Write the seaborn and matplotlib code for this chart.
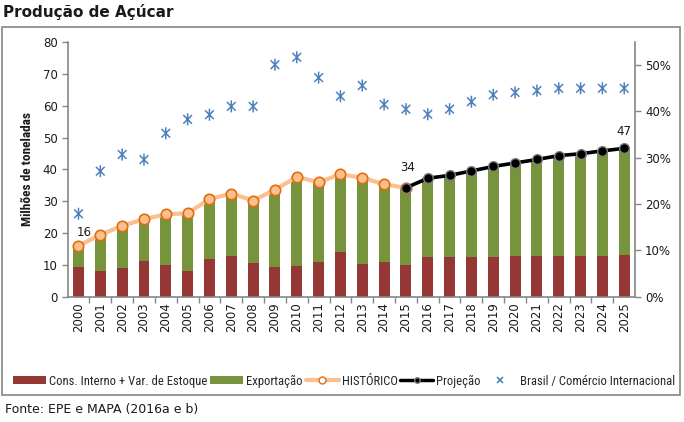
import matplotlib
matplotlib.use("Agg")
import matplotlib.pyplot as plt
import seaborn as sns
import numpy as np
import pandas as pd
from matplotlib.path import Path
from matplotlib.patches import Patch, Rectangle
from matplotlib.lines import Line2D
from matplotlib import font_manager as fm

sns.set_theme(style="white")
plt.rcParams['font.family'] = ['DejaVu Sans']

def pick_narrow():
    names = {f.name for f in fm.fontManager.ttflist}
    for cand in ["Liberation Sans Narrow", "Roboto Condensed", "DejaVu Sans Condensed",
                 "Liberation Sans"]:
        if cand in names:
            return cand
    return "DejaVu Sans"

narrow_family = pick_narrow()

def make_font(size, weight="normal"):
    return fm.FontProperties(family=narrow_family, size=size, weight=weight)

years = list(range(2000, 2026))
consumo = [9.3, 8.1, 8.9, 11.3, 9.9, 8.0, 11.9, 12.9, 10.6, 9.3, 9.5, 10.8, 14.1,
           10.2, 11.0, 10.0, 12.4, 12.5, 12.5, 12.6, 12.8, 12.8, 12.9, 12.9, 12.9, 13.1]
total = [16.0, 19.4, 22.3, 24.3, 25.9, 26.2, 30.7, 32.4, 30.2, 33.6, 37.6, 36.0, 38.4,
         37.4, 35.3, 34.2, 37.2, 38.1, 39.5, 40.9, 42.0, 43.1, 44.3, 44.9, 45.8, 46.6]
exportacao = [t - c for t, c in zip(total, consumo)]
participacao = [17.9, 27.1, 30.7, 29.6, 35.3, 38.3, 39.3, 41.1, 41.1, 50.1, 51.7, 47.3, 43.3,
                45.6, 41.5, 40.5, 39.4, 40.5, 42.1, 43.6, 44.1, 44.5, 45.0, 45.0, 45.0, 45.0]
hist_end = 2015
labels_pts = {2000: "16", 2015: "34", 2025: "47"}
legend_labels = ["Cons. Interno + Var. de Estoque", "Exportação", "HISTÓRICO", "Projeção",
                 "Brasil / Comércio Internacional"]
ylabel = "Milhões de toneladas"

red = "#953735"
green = "#77933C"
orange_line = "#FAC090"
orange_edge = "#E46C0A"
blue = "#4F81BD"
gray = "#868686"

df = pd.DataFrame({"ano": years, "consumo": consumo, "exportacao": exportacao,
                   "total": total, "pct": participacao})
hist = df[df.ano <= hist_end]
proj = df[df.ano >= hist_end]

fig = plt.figure(figsize=(6.84, 4.22), dpi=100)
renderer = fig.canvas.get_renderer()

def fit_size(text, target_px, weight="normal", base=10.0):
    t = fig.text(0, 0, text, fontproperties=make_font(base, weight))
    w = t.get_window_extent(renderer=renderer).width
    t.remove()
    return base * target_px / w

leg_size = fit_size(legend_labels[0], 157)
ylab_size = fit_size(ylabel, 115, weight="bold")

ax_bottom, ax_top = 296.7, 42
ax = fig.add_axes([68/684, 1-ax_bottom/422, (634.7-68)/684, (ax_bottom-ax_top)/422])

sns.barplot(data=df, x="ano", y="total", color=green, saturation=1, width=0.5,
            native_scale=True, ax=ax, edgecolor="none", linewidth=0)
sns.barplot(data=df, x="ano", y="consumo", color=red, saturation=1, width=0.5,
            native_scale=True, ax=ax, edgecolor="none", linewidth=0)

sns.lineplot(data=hist, x="ano", y="total", color=orange_line, linewidth=3,
             marker="o", markersize=7.5, markerfacecolor=orange_line,
             markeredgecolor=orange_edge, markeredgewidth=1.2, ax=ax, zorder=5)
sns.lineplot(data=proj, x="ano", y="total", color="black", linewidth=2.6,
             marker="o", markersize=7, markerfacecolor="black",
             markeredgecolor="#7f7f7f", markeredgewidth=1.0, ax=ax, zorder=6)

offsets = {2000: (4, 9.4), 2015: (1, 14.4), 2025: (0, 12.2)}
for yr, txt in labels_pts.items():
    v = total[years.index(yr)]
    ax.annotate(txt, (yr, v), xytext=offsets[yr], textcoords="offset points",
                ha="center", va="center", fontsize=8.5, color="#1a1a1a")

ax.set_xlim(1999.52, 2025.48)
ax.set_ylim(0, 80)
ax.set_yticks(range(0, 81, 10))
ax.set_xticks(years)
ax.set_xticklabels([str(y) for y in years], rotation=90, fontsize=8.5)
ax.set_xticks([y + 0.5 for y in years[:-1]] + [1999.5], minor=True)
ax.tick_params(axis="x", which="major", length=0, pad=4, colors="#1a1a1a")
ax.tick_params(axis="x", which="minor", length=4, color=gray, width=1, direction="out", bottom=True)
ax.tick_params(axis="y", length=4, color=gray, width=1, direction="out", left=True,
               labelsize=8.5, labelcolor="#1a1a1a")
ax.set_xlabel("")
ax.set_ylabel(ylabel, fontproperties=make_font(ylab_size, "bold"), color="#1a1a1a")
ax.yaxis.set_label_coords(28/684, 1-(ax_bottom+ax_top)/2/422, transform=fig.transFigure)
ax.yaxis.label.set_va("center")
for s in ["top", "right"]:
    ax.spines[s].set_visible(False)
for s in ["left", "bottom"]:
    ax.spines[s].set_color(gray)
    ax.spines[s].set_linewidth(1.2)

ax2 = ax.twinx()
star = Path([(0, -1), (0, 1), (-0.72, -0.72), (0.72, 0.72), (-0.72, 0.72), (0.72, -0.72)],
            [Path.MOVETO, Path.LINETO, Path.MOVETO, Path.LINETO, Path.MOVETO, Path.LINETO])
sns.scatterplot(data=df, x="ano", y="pct", marker=star, s=75, facecolor="none",
                edgecolor=blue, linewidth=1.1, ax=ax2, zorder=4)
ax2.set_ylim(0, 55)
ax2.set_yticks(range(0, 51, 10))
ax2.set_yticklabels([f"{v}%" for v in range(0, 51, 10)])
ax2.tick_params(axis="y", length=4, color=gray, width=1, direction="out", right=True,
                labelsize=8.5, labelcolor="#1a1a1a")
ax2.set_ylabel("")
ax2.set_xlim(1999.52, 2025.48)
for s in ["top", "left", "bottom"]:
    ax2.spines[s].set_visible(False)
ax2.spines["right"].set_color(gray)
ax2.spines["right"].set_linewidth(1.2)
ax2.grid(False)
ax.grid(False)

handles = [
    Patch(facecolor=red, edgecolor="none", label=legend_labels[0]),
    Patch(facecolor=green, edgecolor="none", label=legend_labels[1]),
    Line2D([], [], color=orange_line, lw=3, marker="o", markersize=5,
           markerfacecolor="white", markeredgecolor=orange_edge, label=legend_labels[2]),
    Line2D([], [], color="black", lw=2.5, marker="o", markersize=4,
           markerfacecolor="black", markeredgecolor="#7f7f7f", label=legend_labels[3]),
    Line2D([], [], color=blue, lw=0, marker="x", markersize=4, markeredgewidth=1.2,
           label=legend_labels[4]),
]
em_px = leg_size * 100 / 72

def build_legend(cs):
    return fig.legend(handles=handles, loc="center left",
                      bbox_to_anchor=(13/684, 1-381/422), ncol=5,
                      frameon=False, prop=make_font(leg_size), handlelength=33/em_px,
                      handleheight=6.5/em_px, handletextpad=3/em_px, columnspacing=cs,
                      borderaxespad=0, borderpad=0)

cs = 7/em_px
leg = build_legend(cs)
w = leg.get_window_extent(renderer=renderer).width
target_w = 675 - 13
cs = max(0.1, cs + (target_w - w) / 4 / em_px)
leg.remove()
leg = build_legend(cs)

fig.patches.append(Rectangle((2/684, 1-395/422), (680-2)/684, (395-27)/422,
                             transform=fig.transFigure, fill=False, edgecolor=gray, lw=1.2))
fig.text(3/684, 1-12/422, "Produção de Açúcar", fontsize=11, fontweight="bold",
         ha="left", va="center", color="#1a1a1a")
fig.text(5/684, 1-410/422, "Fonte: EPE e MAPA (2016a e b)", fontsize=9,
         ha="left", va="center", color="#1a1a1a")

fig.savefig("out.png", dpi=100)
